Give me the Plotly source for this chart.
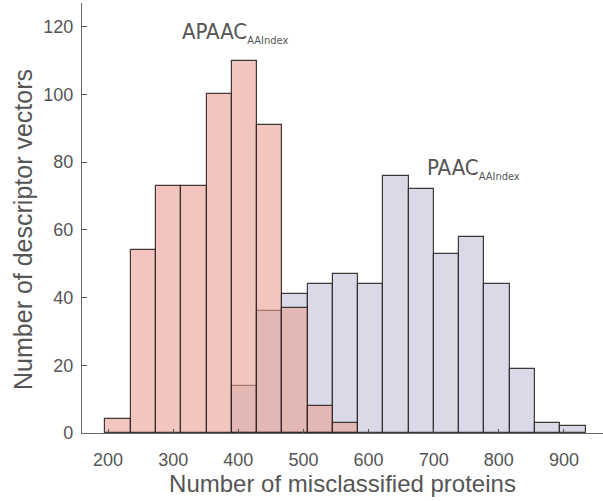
import plotly.graph_objects as go

# Histogram bins shared by both descriptor sets
bin_start = 196.0
bin_width = 38.8

# Counts per bin (APAAC starts at bin 0, PAAC starts at bin 5)
apaac_counts = [4, 54, 73, 73, 100, 110, 91, 37, 8, 3]
apaac_first_bin = 0
paac_counts = [14, 36, 41, 44, 47, 44, 76, 72, 53, 58, 44, 19, 3, 2]
paac_first_bin = 5

x_ticks = [200, 300, 400, 500, 600, 700, 800, 900]
y_ticks = [0, 20, 40, 60, 80, 100, 120]


def centers(first_bin, counts):
    return [bin_start + (first_bin + i + 0.5) * bin_width for i in range(len(counts))]


edge = dict(color="rgba(45,35,35,0.9)", width=1.2)
text_font = "Liberation Sans, Arial, sans-serif"
narrow_font = "Liberation Sans Narrow, Arial Narrow, DejaVu Sans Condensed, Liberation Sans, sans-serif"
grey = "#555555"

fig = go.Figure()
fig.add_trace(go.Bar(
    x=centers(paac_first_bin, paac_counts), y=paac_counts, width=bin_width,
    marker=dict(color="rgb(217,217,231)", line=edge), name="PAAC",
))
fig.add_trace(go.Bar(
    x=centers(apaac_first_bin, apaac_counts), y=apaac_counts, width=bin_width,
    marker=dict(color="rgba(233,160,147,0.6)", line=edge), name="APAAC",
))

sub = '<span style="font-size:11px">AAIndex</span>'
fig.add_annotation(x=311, y=113.3, xref="x", yref="y", xanchor="left", yanchor="bottom",
                   text="APAAC<sub>" + sub + "</sub>", showarrow=False,
                   font=dict(family=narrow_font, size=22, color=grey))
fig.add_annotation(x=687, y=73.3, xref="x", yref="y", xanchor="left", yanchor="bottom",
                   text="PAAC<sub>" + sub + "</sub>", showarrow=False,
                   font=dict(family=narrow_font, size=22, color=grey))

# y-axis title, placed as rotated text left of the tick labels
fig.add_annotation(x=-0.113, y=0.4725, xref="paper", yref="paper", xanchor="center", yanchor="middle",
                   text="Number of descriptor vectors", textangle=-90, showarrow=False,
                   font=dict(family=text_font, size=25, color=grey))

fig.update_layout(
    width=603, height=501,
    margin=dict(l=82, r=0, t=3, b=68),
    barmode="overlay", bargap=0,
    showlegend=False,
    plot_bgcolor="white", paper_bgcolor="white",
    font=dict(family=text_font, color=grey),
)
fig.update_xaxes(
    range=[160, 960], tickvals=x_ticks, ticks="inside", ticklen=4, tickcolor=grey,
    showline=True, linecolor="#666666", linewidth=1.3, showgrid=False, zeroline=False,
    tickfont=dict(size=18, color=grey), ticklabelstandoff=10,
    title=dict(text="Number of misclassified proteins", font=dict(size=24, color=grey), standoff=6),
)
fig.update_yaxes(
    range=[0, 127], tickvals=y_ticks, ticks="inside", ticklen=5, tickcolor=grey,
    showline=True, linecolor="#666666", linewidth=1.3, showgrid=False, zeroline=False,
    tickfont=dict(size=18, color=grey), ticklabelstandoff=4,
)

fig.write_html("out.html")
